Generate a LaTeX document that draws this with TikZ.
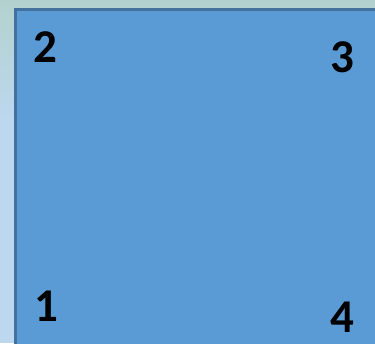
\documentclass[tikz,border=0pt]{standalone}
\usepackage{fontspec}
\setmainfont{Carlito}
\definecolor{bgtop}{HTML}{B3D2CE}
\definecolor{bgbot}{HTML}{BDD7EE}
\definecolor{boxfill}{HTML}{5B9BD5}
\definecolor{boxline}{HTML}{41719C}
\begin{document}
\begin{tikzpicture}[x=1pt,y=-1pt,
  corner/.style={font=\fontsize{47}{47}\selectfont\bfseries, text=black, inner sep=0pt, anchor=center}]
\useasboundingbox (0,0) rectangle (375,343);
\fill[bgbot] (0,120) rectangle (375,343);
\shade[top color=bgtop, bottom color=bgbot] (0,0) rectangle (375,120);
\node[draw=boxline, line width=2.5pt, fill=boxfill, inner sep=0pt, minimum width=380pt, minimum height=350pt, anchor=north west] (box) at (14,8) {};
\node[corner] (n2) at (45,47) {2};
\node[corner] (n3) at (342,57) {3};
\node[corner] (n1) at (46,306) {1};
\node[corner] (n4) at (342,317) {4};
\end{tikzpicture}
\end{document}
